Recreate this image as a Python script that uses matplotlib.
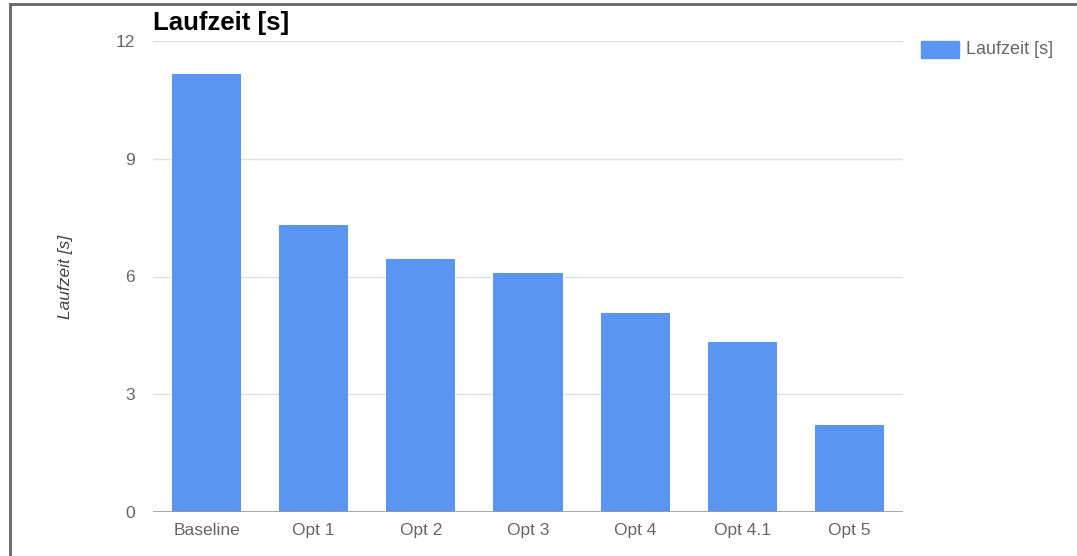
import matplotlib
matplotlib.use("Agg")
import matplotlib.pyplot as plt
from matplotlib.patches import Rectangle
from matplotlib.lines import Line2D

categories = ["Baseline", "Opt 1", "Opt 2", "Opt 3", "Opt 4", "Opt 4.1", "Opt 5"]
values = [11.16, 7.31, 6.45, 6.09, 5.07, 4.33, 2.22]
yticks = [0, 3, 6, 9, 12]
series_name = "Laufzeit [s]"

plt.rcParams['font.family'] = ['Liberation Sans', 'DejaVu Sans']

W, H = 1077, 556
fig = plt.figure(figsize=(W / 100, H / 100), dpi=100)
ax = fig.add_axes([153 / W, 1 - 512 / H, (903 - 153) / W, (512 - 41) / H])

bar_color = "#5b95f2"
x = list(range(len(categories)))
ax.bar(x, values, width=0.645, color=bar_color, zorder=3, label=series_name)
ax.set_xlim(-0.5, len(categories) - 0.5)
ax.set_ylim(0, 12)
ax.set_yticks(yticks)
ax.set_yticklabels([str(t) for t in yticks])
ax.set_xticks(x)
ax.set_xticklabels(categories)
ax.tick_params(axis='both', length=0, labelsize=12.5, colors="#666666")
ax.tick_params(axis='y', pad=13)
ax.tick_params(axis='x', pad=8)
for s in ax.spines.values():
    s.set_visible(False)
ax.grid(axis='y', color="#e0e0e0", linewidth=1, zorder=0)
ax.axhline(0, color="#999999", linewidth=1.2, zorder=4)

ax.set_ylabel(series_name, fontsize=12.5, style='italic', color="#444444", labelpad=31)

fig.text(153 / W, 1 - 23 / H, "Laufzeit [s]", fontsize=18.5, fontweight='bold',
         color="black", ha='left', va='center')

# legend
fig.patches.append(Rectangle((921 / W, 1 - 58 / H), 38 / W, 17 / H,
                             transform=fig.transFigure, color=bar_color, figure=fig))
fig.text(966 / W, 1 - 50 / H, series_name, fontsize=13, color="#666666",
         ha='left', va='center')

# outer border (left and top)
fig.lines.append(Line2D([10 / W, 10 / W], [0, 1 - 4 / H], transform=fig.transFigure,
                        color="#666666", linewidth=2, figure=fig))
fig.lines.append(Line2D([10 / W, 1], [1 - 4 / H, 1 - 4 / H], transform=fig.transFigure,
                        color="#666666", linewidth=2, figure=fig))

fig.savefig("out.png", dpi=100, facecolor="white")
